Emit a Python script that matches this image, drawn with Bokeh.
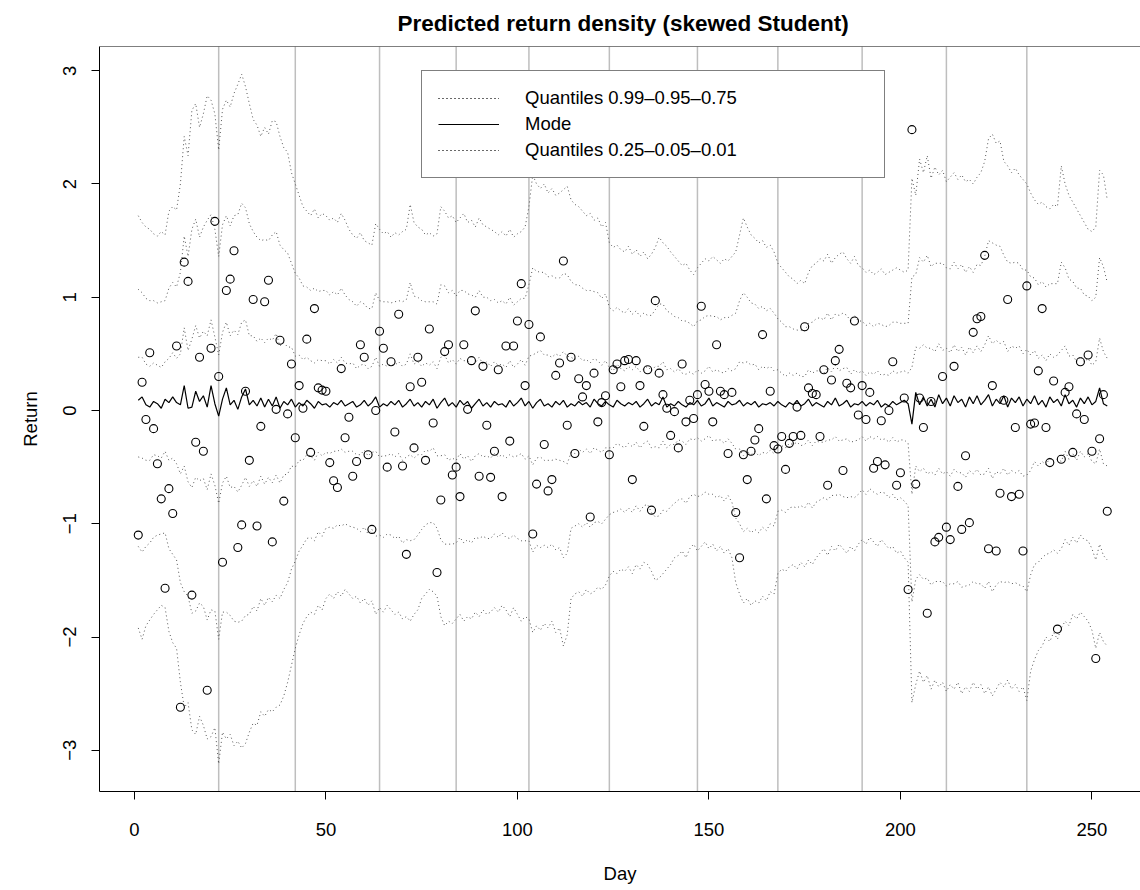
from bokeh.plotting import figure
from bokeh.models import Range1d, FixedTicker, Span, Legend, LegendItem, ColumnDataSource
from bokeh.embed import file_html
from bokeh.resources import INLINE

FONT = "Liberation Sans"
TEXT = "18.5px"

day = list(range(1, 255))

returns = [
    -1.10, 0.25, -0.08, 0.51, -0.16, -0.47, -0.78, -1.57, -0.69, -0.91,
    0.57, -2.62, 1.31, 1.14, -1.63, -0.28, 0.47, -0.36, -2.47, 0.55,
    1.67, 0.30, -1.34, 1.06, 1.16, 1.41, -1.21, -1.01, 0.17, -0.44,
    0.98, -1.02, -0.14, 0.96, 1.15, -1.16, 0.01, 0.62, -0.80, -0.03,
    0.41, -0.24, 0.22, 0.02, 0.63, -0.37, 0.90, 0.20, 0.18, 0.17,
    -0.46, -0.62, -0.68, 0.37, -0.24, -0.06, -0.58, -0.45, 0.58, 0.47,
    -0.39, -1.05, 0.00, 0.70, 0.55, -0.50, 0.43, -0.19, 0.85, -0.49,
    -1.27, 0.21, -0.33, 0.47, 0.25, -0.44, 0.72, -0.11, -1.43, -0.79,
    0.52, 0.58, -0.57, -0.50, -0.76, 0.58, 0.01, 0.44, 0.88, -0.58,
    0.39, -0.13, -0.59, -0.36, 0.36, -0.76, 0.57, -0.27, 0.57, 0.79,
    1.12, 0.22, 0.76, -1.09, -0.65, 0.65, -0.30, -0.71, -0.61, 0.31,
    0.42, 1.32, -0.13, 0.47, -0.38, 0.28, 0.12, 0.22, -0.94, 0.33,
    -0.10, 0.07, 0.13, -0.39, 0.36, 0.41, 0.21, 0.44, 0.45, -0.61,
    0.44, 0.22, -0.14, 0.36, -0.88, 0.97, 0.33, 0.14, 0.02, -0.22,
    -0.01, -0.33, 0.41, -0.10, 0.09, -0.07, 0.14, 0.92, 0.23, 0.17,
    -0.10, 0.58, 0.17, 0.14, -0.38, 0.16, -0.90, -1.30, -0.39, -0.61,
    -0.36, -0.26, -0.16, 0.67, -0.78, 0.17, -0.31, -0.34, -0.23, -0.52,
    -0.29, -0.23, 0.03, -0.22, 0.74, 0.20, 0.15, 0.14, -0.23, 0.36,
    -0.66, 0.27, 0.44, 0.54, -0.53, 0.24, 0.20, 0.79, -0.04, 0.22,
    -0.08, 0.16, -0.51, -0.45, -0.09, -0.48, 0.00, 0.43, -0.66, -0.55,
    0.11, -1.58, 2.48, -0.65, 0.11, -0.15, -1.79, 0.08, -1.16, -1.12,
    0.30, -1.03, -1.14, 0.39, -0.67, -1.05, -0.40, -0.99, 0.69, 0.81,
    0.83, 1.37, -1.22, 0.22, -1.24, -0.73, 0.09, 0.98, -0.76, -0.15,
    -0.74, -1.24, 1.10, -0.12, -0.11, 0.35, 0.90, -0.15, -0.46, 0.26,
    -1.93, -0.43, 0.16, 0.21, -0.37, -0.03, 0.43, -0.08, 0.49, -0.36,
    -2.19, -0.25, 0.14, -0.89,
]

q99 = [
    1.72, 1.66, 1.62, 1.60, 1.56, 1.54, 1.58, 1.55, 1.76, 1.80,
    1.77, 2.00, 2.42, 2.25, 2.65, 2.71, 2.50, 2.62, 2.78, 2.74,
    2.62, 2.30, 2.66, 2.74, 2.68, 2.80, 2.88, 2.97, 2.86, 2.71,
    2.57, 2.52, 2.42, 2.50, 2.44, 2.56, 2.55, 2.42, 2.32, 2.28,
    2.10, 2.00, 1.90, 1.80, 1.76, 1.72, 1.78, 1.70, 1.74, 1.72,
    1.68, 1.70, 1.66, 1.74, 1.68, 1.60, 1.55, 1.52, 1.57, 1.50,
    1.48, 1.46, 1.65, 1.60, 1.56, 1.58, 1.53, 1.57, 1.55, 1.58,
    1.60, 1.82, 1.66, 1.62, 1.60, 1.55, 1.57, 1.54, 1.56, 1.80,
    1.76, 1.70, 1.72, 1.66, 1.70, 1.74, 1.66, 1.68, 1.62, 1.70,
    1.64, 1.62, 1.60, 1.58, 1.55, 1.58, 1.54, 1.60, 1.53, 1.56,
    1.58, 1.62, 1.80, 2.08, 2.00, 1.96, 2.00, 1.92, 1.96, 1.90,
    1.92, 1.95, 1.98, 1.86, 1.82, 1.80, 1.76, 1.72, 1.74, 1.68,
    1.70, 1.62, 1.66, 1.48, 1.44, 1.46, 1.42, 1.40, 1.45, 1.38,
    1.42, 1.36, 1.40, 1.34, 1.38, 1.44, 1.53, 1.48, 1.45, 1.40,
    1.36, 1.32, 1.28, 1.30, 1.24, 1.20, 1.26, 1.30, 1.34, 1.32,
    1.36, 1.33, 1.30, 1.34, 1.32, 1.36, 1.40, 1.55, 1.70, 1.62,
    1.55, 1.52, 1.48, 1.50, 1.44, 1.46, 1.40, 1.30, 1.26, 1.22,
    1.18, 1.16, 1.12, 1.15, 1.12, 1.22, 1.28, 1.30, 1.34, 1.32,
    1.38, 1.30, 1.35, 1.38, 1.40, 1.34, 1.30, 1.36, 1.28, 1.26,
    1.22, 1.24, 1.20, 1.22, 1.25, 1.20, 1.22, 1.24, 1.26, 1.24,
    1.22, 1.24, 2.05, 1.90, 2.22, 2.10, 2.25, 2.05, 2.15, 2.08,
    2.12, 2.02, 2.06, 2.10, 2.04, 2.08, 2.02, 2.04, 2.00, 2.06,
    2.10, 2.20, 2.40, 2.44, 2.36, 2.38, 2.20, 2.16, 2.10, 2.14,
    2.08, 2.04, 2.00, 1.92, 1.86, 1.82, 1.84, 1.80, 1.78, 1.82,
    1.80, 2.16, 2.00, 1.90, 1.84, 1.78, 1.72, 1.66, 1.60, 1.58,
    1.62, 2.12, 2.08, 1.86,
]

q95 = [
    1.07, 1.04, 0.99, 0.97, 0.97, 0.95, 0.96, 0.97, 1.08, 1.13,
    1.09, 1.22, 1.54, 1.36, 1.60, 1.69, 1.53, 1.62, 1.68, 1.73,
    1.60, 1.36, 1.64, 1.72, 1.63, 1.72, 1.73, 1.83, 1.79, 1.65,
    1.58, 1.53, 1.50, 1.51, 1.50, 1.55, 1.58, 1.46, 1.42, 1.39,
    1.30, 1.21, 1.17, 1.10, 1.09, 1.06, 1.08, 1.05, 1.06, 1.06,
    1.02, 1.05, 1.02, 1.08, 1.02, 0.98, 0.96, 0.92, 0.96, 0.94,
    0.90, 0.90, 1.04, 0.97, 0.96, 0.96, 0.95, 0.96, 0.97, 0.96,
    0.98, 1.13, 1.01, 1.00, 0.97, 0.96, 0.96, 0.96, 0.94, 1.11,
    1.10, 1.04, 1.06, 1.01, 1.06, 1.06, 1.03, 1.02, 1.00, 1.06,
    1.00, 1.00, 0.97, 0.98, 0.95, 0.97, 0.94, 1.00, 0.93, 0.96,
    0.99, 0.99, 1.11, 1.26, 1.23, 1.22, 1.22, 1.18, 1.19, 1.17,
    1.17, 1.21, 1.20, 1.14, 1.11, 1.11, 1.08, 1.06, 1.06, 1.05,
    1.04, 0.99, 1.03, 0.91, 0.88, 0.91, 0.88, 0.86, 0.90, 0.85,
    0.88, 0.83, 0.86, 0.84, 0.84, 0.89, 0.94, 0.94, 0.88, 0.86,
    0.83, 0.82, 0.79, 0.79, 0.77, 0.74, 0.79, 0.80, 0.83, 0.84,
    0.83, 0.83, 0.80, 0.82, 0.82, 0.84, 0.86, 0.97, 1.04, 1.00,
    0.95, 0.94, 0.90, 0.92, 0.88, 0.90, 0.86, 0.81, 0.78, 0.74,
    0.74, 0.72, 0.71, 0.71, 0.70, 0.77, 0.78, 0.81, 0.82, 0.80,
    0.86, 0.80, 0.85, 0.84, 0.86, 0.84, 0.79, 0.84, 0.79, 0.79,
    0.75, 0.77, 0.74, 0.77, 0.76, 0.74, 0.75, 0.78, 0.78, 0.77,
    0.77, 0.77, 1.18, 1.20, 1.35, 1.31, 1.37, 1.27, 1.30, 1.30,
    1.30, 1.26, 1.25, 1.31, 1.25, 1.29, 1.22, 1.27, 1.22, 1.29,
    1.28, 1.36, 1.50, 1.48, 1.46, 1.45, 1.37, 1.31, 1.30, 1.31,
    1.30, 1.24, 1.24, 1.18, 1.17, 1.11, 1.14, 1.09, 1.12, 1.12,
    1.12, 1.31, 1.26, 1.16, 1.14, 1.08, 1.08, 1.02, 1.01, 0.97,
    1.00, 1.35, 1.27, 1.13,
]

q75 = [
    0.47, 0.47, 0.41, 0.39, 0.42, 0.40, 0.38, 0.43, 0.46, 0.51,
    0.46, 0.50, 0.73, 0.53, 0.63, 0.75, 0.64, 0.70, 0.66, 0.80,
    0.65, 0.49, 0.69, 0.78, 0.66, 0.71, 0.67, 0.78, 0.80, 0.66,
    0.66, 0.61, 0.64, 0.60, 0.64, 0.62, 0.68, 0.57, 0.60, 0.56,
    0.56, 0.48, 0.49, 0.45, 0.47, 0.44, 0.42, 0.45, 0.44, 0.44,
    0.41, 0.45, 0.42, 0.47, 0.42, 0.41, 0.42, 0.37, 0.40, 0.41,
    0.37, 0.39, 0.47, 0.39, 0.41, 0.39, 0.41, 0.40, 0.43, 0.39,
    0.41, 0.50, 0.41, 0.43, 0.39, 0.42, 0.40, 0.43, 0.37, 0.47,
    0.49, 0.42, 0.45, 0.41, 0.46, 0.44, 0.44, 0.40, 0.42, 0.47,
    0.41, 0.43, 0.39, 0.43, 0.40, 0.41, 0.38, 0.44, 0.38, 0.41,
    0.45, 0.40, 0.48, 0.49, 0.51, 0.53, 0.49, 0.49, 0.47, 0.50,
    0.48, 0.52, 0.48, 0.47, 0.45, 0.48, 0.44, 0.45, 0.42, 0.46,
    0.44, 0.40, 0.44, 0.38, 0.35, 0.41, 0.37, 0.35, 0.39, 0.36,
    0.39, 0.34, 0.37, 0.39, 0.35, 0.39, 0.39, 0.43, 0.36, 0.37,
    0.34, 0.37, 0.33, 0.32, 0.34, 0.32, 0.36, 0.33, 0.35, 0.39,
    0.34, 0.36, 0.34, 0.33, 0.37, 0.35, 0.37, 0.43, 0.42, 0.43,
    0.40, 0.41, 0.36, 0.39, 0.37, 0.39, 0.35, 0.36, 0.33, 0.30,
    0.33, 0.31, 0.33, 0.30, 0.30, 0.36, 0.33, 0.35, 0.35, 0.33,
    0.38, 0.34, 0.40, 0.35, 0.37, 0.38, 0.32, 0.36, 0.33, 0.35,
    0.31, 0.34, 0.32, 0.35, 0.31, 0.32, 0.31, 0.35, 0.33, 0.34,
    0.35, 0.33, 0.38, 0.56, 0.55, 0.58, 0.55, 0.55, 0.52, 0.59,
    0.53, 0.55, 0.51, 0.58, 0.52, 0.56, 0.49, 0.56, 0.51, 0.57,
    0.52, 0.58, 0.66, 0.59, 0.62, 0.59, 0.61, 0.52, 0.57, 0.55,
    0.57, 0.50, 0.54, 0.49, 0.53, 0.46, 0.49, 0.44, 0.50, 0.47,
    0.49, 0.53, 0.57, 0.48, 0.49, 0.43, 0.48, 0.43, 0.46, 0.40,
    0.43, 0.64, 0.52, 0.46,
]

mode = [
    0.09, 0.12, 0.05, 0.03, 0.08, 0.06, 0.02, 0.10, 0.07, 0.12,
    0.07, 0.05, 0.22, 0.02, 0.03, 0.17, 0.08, 0.13, 0.03, 0.22,
    0.06, -0.05, 0.10, 0.20, 0.05, 0.09, 0.01, 0.12, 0.19, 0.05,
    0.09, 0.04, 0.11, 0.03, 0.10, 0.04, 0.12, 0.02, 0.08, 0.05,
    0.10, 0.03, 0.07, 0.04, 0.09, 0.06, 0.02, 0.08, 0.05, 0.06,
    0.03, 0.07, 0.05, 0.09, 0.04, 0.06, 0.08, 0.03, 0.05, 0.09,
    0.04, 0.07, 0.12, 0.03, 0.06, 0.04, 0.08, 0.05, 0.09, 0.03,
    0.06, 0.10, 0.04, 0.07, 0.03, 0.08, 0.05, 0.10, 0.02, 0.07,
    0.11, 0.04, 0.07, 0.03, 0.09, 0.05, 0.08, 0.02, 0.06, 0.10,
    0.04, 0.07, 0.03, 0.08, 0.05, 0.06, 0.03, 0.09, 0.04, 0.07,
    0.11, 0.04, 0.08, 0.02, 0.07, 0.10, 0.04, 0.06, 0.03, 0.08,
    0.05, 0.09, 0.03, 0.06, 0.04, 0.08, 0.05, 0.07, 0.03, 0.10,
    0.06, 0.04, 0.08, 0.05, 0.03, 0.09, 0.06, 0.04, 0.07, 0.05,
    0.08, 0.03, 0.06, 0.10, 0.04, 0.07, 0.05, 0.12, 0.03, 0.06,
    0.04, 0.08, 0.05, 0.03, 0.07, 0.05, 0.09, 0.04, 0.06, 0.11,
    0.04, 0.07, 0.05, 0.03, 0.08, 0.05, 0.06, 0.09, 0.04, 0.07,
    0.05, 0.08, 0.03, 0.06, 0.05, 0.07, 0.04, 0.08, 0.05, 0.03,
    0.07, 0.05, 0.09, 0.04, 0.06, 0.10, 0.04, 0.07, 0.05, 0.03,
    0.08, 0.05, 0.11, 0.04, 0.06, 0.09, 0.03, 0.06, 0.05, 0.08,
    0.04, 0.07, 0.05, 0.09, 0.03, 0.06, 0.04, 0.08, 0.05, 0.07,
    0.09, 0.06, -0.12, 0.16, 0.05, 0.12, 0.04, 0.10, 0.03, 0.14,
    0.06, 0.11, 0.04, 0.13, 0.07, 0.10, 0.03, 0.12, 0.06, 0.13,
    0.05, 0.09, 0.14, 0.04, 0.10, 0.06, 0.13, 0.03, 0.11, 0.07,
    0.12, 0.04, 0.10, 0.06, 0.13, 0.05, 0.09, 0.03, 0.12, 0.07,
    0.10, 0.04, 0.14, 0.06, 0.09, 0.03, 0.11, 0.06, 0.12, 0.05,
    0.08, 0.20, 0.06, 0.04,
]

q25 = [
    -0.41, -0.42, -0.44, -0.44, -0.39, -0.40, -0.42, -0.36, -0.44, -0.42,
    -0.47, -0.56, -0.49, -0.63, -0.68, -0.59, -0.62, -0.60, -0.70, -0.56,
    -0.66, -0.82, -0.64, -0.58, -0.68, -0.67, -0.72, -0.66, -0.59, -0.67,
    -0.62, -0.67, -0.58, -0.65, -0.59, -0.64, -0.57, -0.64, -0.57, -0.56,
    -0.49, -0.50, -0.44, -0.44, -0.39, -0.40, -0.44, -0.37, -0.40, -0.37,
    -0.38, -0.36, -0.36, -0.34, -0.37, -0.36, -0.36, -0.39, -0.39, -0.35,
    -0.40, -0.37, -0.36, -0.41, -0.40, -0.40, -0.38, -0.41, -0.38, -0.44,
    -0.41, -0.39, -0.42, -0.39, -0.39, -0.35, -0.36, -0.33, -0.40, -0.40,
    -0.39, -0.44, -0.42, -0.44, -0.38, -0.43, -0.40, -0.45, -0.40, -0.38,
    -0.41, -0.40, -0.42, -0.38, -0.41, -0.39, -0.42, -0.39, -0.41, -0.40,
    -0.38, -0.43, -0.40, -0.48, -0.42, -0.41, -0.44, -0.44, -0.44, -0.43,
    -0.44, -0.45, -0.47, -0.37, -0.38, -0.34, -0.37, -0.34, -0.38, -0.33,
    -0.35, -0.37, -0.33, -0.33, -0.33, -0.29, -0.31, -0.33, -0.29, -0.32,
    -0.28, -0.33, -0.29, -0.27, -0.33, -0.32, -0.33, -0.27, -0.33, -0.30,
    -0.30, -0.26, -0.27, -0.30, -0.25, -0.26, -0.24, -0.27, -0.25, -0.22,
    -0.27, -0.26, -0.26, -0.29, -0.25, -0.29, -0.34, -0.34, -0.40, -0.36,
    -0.39, -0.36, -0.40, -0.37, -0.38, -0.35, -0.38, -0.30, -0.31, -0.33,
    -0.29, -0.30, -0.28, -0.31, -0.30, -0.26, -0.31, -0.27, -0.28, -0.28,
    -0.26, -0.26, -0.23, -0.27, -0.26, -0.25, -0.28, -0.27, -0.26, -0.23,
    -0.27, -0.23, -0.25, -0.23, -0.26, -0.25, -0.28, -0.24, -0.28, -0.26,
    -0.26, -0.29, -0.74, -0.49, -0.54, -0.51, -0.56, -0.54, -0.57, -0.51,
    -0.56, -0.54, -0.58, -0.52, -0.55, -0.55, -0.59, -0.53, -0.56, -0.52,
    -0.57, -0.56, -0.51, -0.60, -0.54, -0.56, -0.51, -0.57, -0.53, -0.55,
    -0.53, -0.58, -0.57, -0.53, -0.45, -0.49, -0.45, -0.48, -0.42, -0.44,
    -0.43, -0.45, -0.36, -0.43, -0.38, -0.44, -0.36, -0.41, -0.38, -0.45,
    -0.47, -0.34, -0.47, -0.49,
]

q05 = [
    -1.20, -1.25, -1.20, -1.17, -1.12, -1.10, -1.09, -1.08, -1.22, -1.27,
    -1.32, -1.52, -1.60, -1.64, -1.79, -1.77, -1.70, -1.73, -1.85, -1.76,
    -1.77, -2.02, -1.78, -1.78, -1.81, -1.86, -1.87, -1.86, -1.81, -1.80,
    -1.73, -1.77, -1.66, -1.72, -1.65, -1.69, -1.63, -1.66, -1.58, -1.52,
    -1.40, -1.33, -1.24, -1.19, -1.13, -1.12, -1.15, -1.07, -1.11, -1.04,
    -1.03, -1.04, -1.01, -1.02, -1.00, -1.02, -1.03, -1.04, -1.07, -1.03,
    -1.09, -1.05, -1.11, -1.10, -1.12, -1.09, -1.10, -1.13, -1.11, -1.17,
    -1.14, -1.15, -1.14, -1.10, -1.05, -1.01, -0.99, -0.99, -1.04, -1.14,
    -1.18, -1.18, -1.18, -1.17, -1.12, -1.17, -1.14, -1.17, -1.12, -1.13,
    -1.11, -1.13, -1.13, -1.09, -1.12, -1.08, -1.12, -1.13, -1.10, -1.13,
    -1.15, -1.15, -1.15, -1.25, -1.19, -1.21, -1.19, -1.21, -1.18, -1.23,
    -1.21, -1.30, -1.26, -1.04, -1.02, -1.00, -1.03, -0.99, -1.03, -0.99,
    -0.98, -1.00, -0.96, -0.92, -0.90, -0.89, -0.87, -0.90, -0.86, -0.90,
    -0.84, -0.89, -0.84, -0.83, -0.90, -0.94, -0.93, -0.88, -0.89, -0.85,
    -0.82, -0.79, -0.78, -0.82, -0.76, -0.74, -0.76, -0.75, -0.72, -0.74,
    -0.74, -0.77, -0.75, -0.80, -0.75, -0.81, -0.95, -1.00, -1.07, -1.04,
    -1.08, -1.05, -1.08, -1.03, -1.06, -1.00, -1.02, -0.89, -0.88, -0.90,
    -0.86, -0.85, -0.86, -0.84, -0.86, -0.81, -0.86, -0.81, -0.79, -0.77,
    -0.79, -0.75, -0.75, -0.74, -0.76, -0.77, -0.76, -0.77, -0.74, -0.70,
    -0.74, -0.69, -0.72, -0.74, -0.72, -0.73, -0.77, -0.74, -0.79, -0.77,
    -0.80, -0.84, -1.69, -1.49, -1.45, -1.49, -1.48, -1.54, -1.51, -1.51,
    -1.51, -1.55, -1.53, -1.53, -1.51, -1.56, -1.55, -1.54, -1.51, -1.53,
    -1.53, -1.57, -1.51, -1.60, -1.54, -1.51, -1.52, -1.51, -1.53, -1.52,
    -1.54, -1.55, -1.60, -1.45, -1.36, -1.34, -1.30, -1.27, -1.26, -1.23,
    -1.26, -1.22, -1.14, -1.19, -1.12, -1.17, -1.10, -1.14, -1.15, -1.22,
    -1.32, -1.18, -1.28, -1.32,
]

q01 = [
    -1.92, -2.02, -1.90, -1.85, -1.80, -1.76, -1.72, -1.74, -1.95, -2.05,
    -2.10, -2.40, -2.62, -2.58, -2.82, -2.86, -2.70, -2.78, -2.90, -2.88,
    -2.80, -3.12, -2.84, -2.90, -2.86, -2.96, -2.92, -2.98, -2.94, -2.84,
    -2.76, -2.78, -2.66, -2.70, -2.64, -2.66, -2.62, -2.60, -2.52, -2.40,
    -2.25, -2.10, -1.98, -1.88, -1.82, -1.78, -1.80, -1.72, -1.76, -1.66,
    -1.62, -1.66, -1.60, -1.64, -1.58, -1.62, -1.66, -1.64, -1.70, -1.66,
    -1.72, -1.68, -1.80, -1.74, -1.78, -1.72, -1.76, -1.80, -1.78, -1.84,
    -1.82, -1.86, -1.80, -1.76, -1.66, -1.62, -1.58, -1.60, -1.64, -1.82,
    -1.90, -1.86, -1.88, -1.84, -1.80, -1.86, -1.82, -1.84, -1.78, -1.82,
    -1.76, -1.80, -1.78, -1.74, -1.78, -1.72, -1.76, -1.82, -1.74, -1.80,
    -1.86, -1.82, -1.84, -1.96, -1.90, -1.94, -1.88, -1.92, -1.86, -1.96,
    -1.92, -2.08, -1.98, -1.66, -1.62, -1.60, -1.64, -1.58, -1.62, -1.60,
    -1.56, -1.58, -1.54, -1.46, -1.42, -1.44, -1.40, -1.42, -1.38, -1.44,
    -1.36, -1.40, -1.34, -1.36, -1.42, -1.50, -1.48, -1.44, -1.40, -1.36,
    -1.30, -1.28, -1.24, -1.30, -1.22, -1.18, -1.24, -1.20, -1.16, -1.22,
    -1.18, -1.24, -1.20, -1.26, -1.22, -1.30, -1.52, -1.62, -1.70, -1.66,
    -1.72, -1.68, -1.70, -1.64, -1.68, -1.60, -1.62, -1.44, -1.40, -1.42,
    -1.38, -1.36, -1.40, -1.34, -1.38, -1.32, -1.36, -1.30, -1.26, -1.22,
    -1.28, -1.20, -1.24, -1.18, -1.22, -1.26, -1.20, -1.24, -1.18, -1.14,
    -1.18, -1.12, -1.16, -1.20, -1.14, -1.18, -1.22, -1.20, -1.26, -1.24,
    -1.30, -1.34, -2.58, -2.42, -2.30, -2.40, -2.34, -2.46, -2.38, -2.44,
    -2.40, -2.48, -2.42, -2.46, -2.40, -2.50, -2.44, -2.48, -2.40, -2.46,
    -2.42, -2.50, -2.44, -2.52, -2.46, -2.40, -2.44, -2.38, -2.46, -2.42,
    -2.48, -2.44, -2.56, -2.30, -2.20, -2.12, -2.08, -2.00, -2.04, -1.96,
    -2.02, -1.92, -1.86, -1.90, -1.80, -1.84, -1.78, -1.82, -1.86, -1.94,
    -2.10, -1.96, -2.04, -2.08,
]

month_breaks = [22, 42, 64, 84, 103, 124, 147, 168, 190, 212, 233]

x_ticks = [0, 50, 100, 150, 200, 250]
x_tick_labels = ["0", "50", "100", "150", "200", "250"]
y_ticks = [-3, -2, -1, 0, 1, 2, 3]
y_tick_labels = ["\u22123", "\u22122", "\u22121", "0", "1", "2", "3"]

X_START, X_END = -9.12, 262.68
Y_START, Y_END = -3.364, 3.214

src = ColumnDataSource(dict(day=day, ret=returns, q99=q99, q95=q95, q75=q75,
                            mode=mode, q25=q25, q05=q05, q01=q01))

p = figure(frame_width=1041, frame_height=745,
           x_range=Range1d(X_START, X_END), y_range=Range1d(Y_START, Y_END),
           min_border_left=99, min_border_right=0, min_border_top=46, min_border_bottom=97,
           output_backend="svg", toolbar_location=None,
           title="Predicted return density (skewed Student)")

p.background_fill_color = "white"
p.border_fill_color = "white"
p.outline_line_color = None
p.xgrid.visible = False
p.ygrid.visible = False

p.title.text_font = FONT
p.title.text_font_size = "22.5px"
p.title.text_font_style = "bold"
p.title.text_color = "black"
p.title.align = "left"
p.title.offset = 298
p.title.standoff = 17
p.title.vertical_align = "top"

for ax in (p.xaxis[0], p.yaxis[0]):
    ax.axis_line_color = "black"
    ax.axis_line_width = 1
    ax.major_tick_line_color = "black"
    ax.major_tick_line_width = 1
    ax.major_tick_in = 0
    ax.major_tick_out = 8
    ax.minor_tick_line_color = None
    ax.major_label_text_font = FONT
    ax.major_label_text_font_size = TEXT
    ax.major_label_text_color = "black"
    ax.axis_label_text_font = FONT
    ax.axis_label_text_font_size = TEXT
    ax.axis_label_text_font_style = "normal"
    ax.axis_label_text_color = "black"

p.xaxis.ticker = FixedTicker(ticks=x_ticks)
p.xaxis.major_label_overrides = {t: s for t, s in zip(x_ticks, x_tick_labels)}
p.xaxis.axis_label = "Day"
p.xaxis.major_label_standoff = 23
p.xaxis.axis_label_standoff = 24

p.yaxis.ticker = FixedTicker(ticks=y_ticks)
p.yaxis.major_label_overrides = {t: s for t, s in zip(y_ticks, y_tick_labels)}
p.yaxis.major_label_orientation = "vertical"
p.yaxis.axis_label = "Return"
p.yaxis.major_label_standoff = 15
p.yaxis.axis_label_standoff = 20

# top edge of the box
p.add_layout(Span(location=Y_END, dimension="width", line_color="black", line_width=1))

# month separators
for m in month_breaks:
    p.add_layout(Span(location=m, dimension="height", line_color="#BEBEBE",
                      line_width=1.5, level="underlay"))

dot = dict(line_color="#555555", line_width=1, line_dash="1 3")
r99 = p.line("day", "q99", source=src, **dot)
r95 = p.line("day", "q95", source=src, **dot)
r75 = p.line("day", "q75", source=src, **dot)
rm = p.line("day", "mode", source=src, line_color="black", line_width=1.2)
r25 = p.line("day", "q25", source=src, **dot)
r05 = p.line("day", "q05", source=src, **dot)
r01 = p.line("day", "q01", source=src, **dot)

p.scatter("day", "ret", source=src, marker="circle", size=8, fill_color=None,
          line_color="black", line_width=1.1)

legend = Legend(items=[
    LegendItem(label="Quantiles 0.99\u20130.95\u20130.75", renderers=[r99, r95, r75]),
    LegendItem(label="Mode", renderers=[rm]),
    LegendItem(label="Quantiles 0.25\u20130.05\u20130.01", renderers=[r25, r05, r01]),
], location=(322, 613))
legend.border_line_color = "black"
legend.border_line_width = 1
legend.background_fill_color = "white"
legend.background_fill_alpha = 1
legend.padding = 16
legend.spacing = 4
legend.margin = 0
legend.glyph_width = 61
legend.glyph_height = 22
legend.label_height = 22
legend.label_width = 343
legend.label_standoff = 26
legend.label_text_font = FONT
legend.label_text_font_size = TEXT
legend.label_text_color = "black"
p.add_layout(legend)

open("out.html", "w").write(file_html(p, INLINE))
